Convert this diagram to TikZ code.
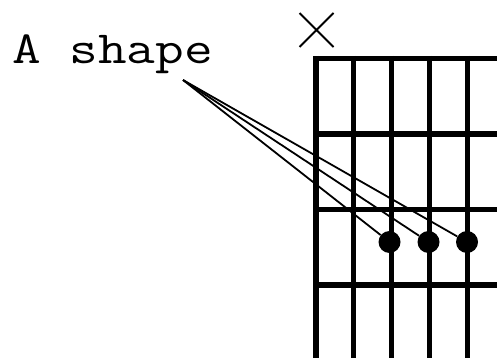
\documentclass[tikz,border=0pt]{standalone}
\usetikzlibrary{shapes.misc}
\newcommand{\fretgrid}{
    \foreach \s in {0,...,5}
        \draw[line width=5.2] (316+37.8*\s,56) -- (316+37.8*\s,370);
    \foreach \f in {0,...,4}
        \draw[line width=5.2] (313.4,58.5+75.5*\f) -- (520,58.5+75.5*\f);
}
\tikzset{
    fingerdot/.style={circle, fill=black, inner sep=0pt, minimum size=22},
    pointer/.style={line width=1.8},
}

\begin{document}
\begin{tikzpicture}[x=1pt,y=-1pt]
        \useasboundingbox (0,0) rectangle (497,358);
        \clip (0,0) rectangle (497,358);
        \fretgrid
        \node[cross out, draw, line width=2, minimum size=32, inner sep=0pt] (mute) at (316.5,30) {};
        \node[anchor=base west, inner sep=0pt, font=\ttfamily\fontsize{46}{46}\selectfont] (name) at (12,64) {\scalebox{1.21}[1]{A shape}};
        \coordinate (tip) at (183,80);
        \node[fingerdot] (d3) at (389.5,242) {};
        \node[fingerdot] (d4) at (428.5,242) {};
        \node[fingerdot] (d5) at (467,242) {};
        \draw[pointer] (tip) -- (d3);
        \draw[pointer] (tip) -- (d4);
        \draw[pointer] (tip) -- (d5);
    \end{tikzpicture}
\end{document}
